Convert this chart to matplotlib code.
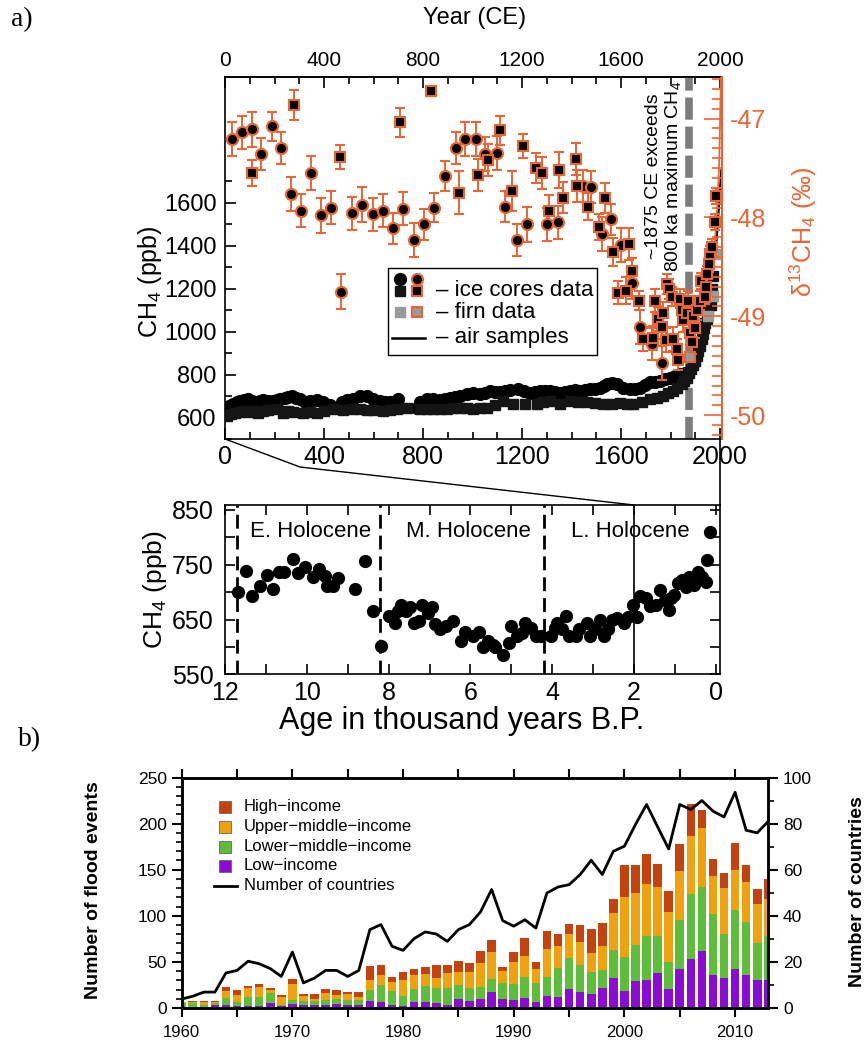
import matplotlib
matplotlib.use('Agg')
import matplotlib.pyplot as plt
from matplotlib.lines import Line2D
from matplotlib.patches import Rectangle
from matplotlib.ticker import MultipleLocator, FixedLocator

plt.rcParams['font.family'] = ['Liberation Sans', 'DejaVu Sans']
plt.rcParams['mathtext.fontset'] = 'custom'
plt.rcParams['mathtext.rm'] = 'Liberation Sans'
plt.rcParams['mathtext.it'] = 'Liberation Sans:italic'
plt.rcParams['mathtext.bf'] = 'Liberation Sans:bold'
plt.rcParams['axes.unicode_minus'] = False

ORANGE = '#EB6434'

# ---------------- panel a (top): CH4 and d13CH4, 0-2000 CE ----------------
ice_circ_year = [0, 17, 34, 48, 61, 78, 94, 110, 128, 142, 155, 175, 195, 209, 222, 242, 256, 269, 286, 303,
                 323, 345, 370, 397, 424, 444, 471, 491, 518, 545, 572, 599, 626, 647, 667, 700, 774, 788, 815,
                 842, 869, 889, 909, 929, 949, 976, 1003, 1030, 1050, 1071, 1091, 1111, 1131, 1151, 1185, 1210,
                 1232, 1252, 1273, 1293, 1313, 1333, 1353, 1374, 1394, 1414, 1434, 1455, 1475, 1495, 1515, 1530,
                 1542, 1562, 1583, 1609, 1636, 1656, 1677, 1697, 1717, 1737, 1757, 1778, 1798, 1818, 1838, 1858]
ice_circ_ch4 = [649, 655, 662, 670, 677, 680, 685, 678, 672, 676, 682, 679, 677, 681, 685, 693, 695, 698, 690, 685,
                672, 676, 682, 670, 657, 646, 672, 682, 688, 700, 698, 685, 676, 674, 672, 688, 646, 670, 685,
                688, 682, 688, 693, 697, 700, 708, 716, 708, 716, 724, 720, 719, 724, 728, 731, 722,
                716, 720, 724, 722, 724, 720, 716, 720, 724, 726, 724, 728, 731, 735, 739, 748,
                755, 759, 755, 739, 731, 735, 739, 750, 763, 766, 770, 778, 786, 792, 801, 809]

ice_sq_year = [7, 24, 40, 57, 74, 91, 108, 135, 155, 175, 209, 236, 256, 276, 317, 345, 370, 400, 438, 475, 512,
               545, 572, 599, 640, 667, 694, 734, 788, 815, 842, 869, 896, 922, 949, 976, 1003, 1030, 1057, 1090,
               1124, 1165, 1212, 1259, 1286, 1313, 1353, 1394, 1428, 1461, 1495, 1528, 1562, 1596, 1623, 1650,
               1684, 1717, 1744, 1771, 1791, 1811, 1828, 1845, 1855, 1865, 1873, 1881, 1890, 1899, 1905, 1912,
               1919, 1926, 1931, 1936, 1941, 1946, 1953, 1962, 1967, 1973]
ice_sq_ch4 = [607, 615, 623, 628, 631, 628, 631, 623, 630, 635, 639, 623, 630, 626, 620, 628, 623, 632, 639, 636, 639,
              640, 637, 635, 631, 636, 639, 643, 639, 641, 639, 640, 641, 643, 646, 642, 639, 643, 646, 660,
              677, 662, 665, 662, 670, 677, 662, 677, 672, 670, 666, 662, 664, 666, 664, 662,
              672, 685, 692, 700, 712, 724, 738, 755, 770, 786, 805, 824, 843, 863, 885, 909,
              935, 964, 990, 1018, 1038, 1057, 1103, 1126, 1196, 1257]

firn_year = [1953, 1970, 1986]
firn_ch4 = [1072, 1165, 1359]

air_year = [1983, 1988, 1993, 1998, 2003, 2006]
air_ch4 = [1390, 1470, 1550, 1630, 1700, 1750]

d13_circ_year = [28, 67, 110, 147, 189, 225, 265, 306, 347, 387, 430, 470, 512, 555, 599, 637, 677, 718, 765, 803,
                 846, 890, 932, 968, 1013, 1050, 1098, 1133, 1178, 1219, 1302, 1347, 1445, 1477, 1523, 1558, 1600,
                 1643, 1677, 1724, 1764]
d13_circ_val = [-47.21, -47.14, -47.11, -47.36, -47.08, -47.30, -47.76, -47.93, -47.55, -47.98, -47.90, -48.75,
                -47.96, -47.87, -47.97, -47.93, -48.11, -47.91, -48.23, -48.07, -47.90, -47.58, -47.30, -47.21,
                -47.21, -47.36, -47.35, -47.89, -48.23, -48.07, -48.07, -48.05, -47.68, -47.69, -48.17, -48.02,
                -48.28, -48.66, -49.11, -49.28, -49.47]
d13_circ_err = [0.17, 0.17, 0.18, 0.16, 0.15, 0.16, 0.17, 0.17, 0.17, 0.18, 0.17, 0.18, 0.17, 0.18, 0.17, 0.17,
                0.16, 0.17, 0.17, 0.16, 0.15, 0.15, 0.16, 0.17, 0.17, 0.17, 0.17, 0.16, 0.16, 0.18, 0.17, 0.17,
                0.16, 0.16, 0.17, 0.16, 0.17, 0.16, 0.17, 0.16, 0.17]

d13_sq_year = [108, 279, 466, 706, 831, 947, 1024, 1064, 1111, 1161, 1205, 1256, 1279, 1308, 1351, 1367, 1418, 1421,
               1465, 1512, 1535, 1569, 1587, 1620, 1634, 1646, 1673, 1690, 1728, 1737, 1751, 1764, 1771, 1782, 1784,
               1795, 1805, 1809, 1825, 1831, 1838, 1845, 1852, 1865, 1872, 1878, 1885, 1889, 1900, 1909, 1919,
               1925, 1939, 1943, 1948, 1955, 1960, 1966, 1980, 1984]
d13_sq_val = [-47.55, -46.86, -47.39, -47.04, -46.72, -47.75, -47.57, -47.42, -47.12, -47.73, -47.28, -47.50, -47.55,
              -47.93, -47.52, -47.80, -47.41, -47.68, -47.89, -48.10, -47.80, -48.35, -48.76, -48.74, -48.27, -48.54,
              -48.84, -49.23, -49.22, -48.84, -49.03, -49.11, -48.97, -49.24, -48.67, -48.72, -48.80, -49.23, -49.33,
              -49.44, -48.82, -48.94, -49.04, -48.97, -48.84, -49.17, -49.26, -49.00, -49.12, -48.94, -48.84,
              -48.64, -48.80, -48.70, -48.57, -48.47, -48.37, -48.30, -48.05, -47.78]
d13_sq_err = [0.13, 0.15, 0.12, 0.15, 0.05, 0.22, 0.16, 0.16, 0.15, 0.20, 0.12, 0.15, 0.16, 0.16, 0.18, 0.16, 0.16,
              0.16, 0.14, 0.13, 0.15, 0.14, 0.12, 0.14, 0.16, 0.13, 0.10, 0.12, 0.12, 0.12, 0.12, 0.12, 0.12, 0.12,
              0.10, 0.10, 0.10, 0.12, 0.10, 0.10, 0.10, 0.10, 0.12, 0.10, 0.10, 0.12, 0.12, 0.10, 0.10, 0.10,
              0.10, 0.08, 0.08, 0.08, 0.08, 0.08, 0.08, 0.08, 0.08, 0.08]

firn_d13_year = [1880]
firn_d13_val = [-49.41]

air_d13_year = [1965, 1980, 1990, 1997, 2004]
air_d13_val = [-48.45, -48.23, -47.85, -47.42, -46.55]

exceed_year = 1875

# ---------------- panel a (bottom): Holocene CH4 ----------------
holo_age = [11.68, 11.49, 11.33, 11.15, 10.97, 10.83, 10.67, 10.55, 10.33, 10.22, 10.04, 9.84, 9.70, 9.55, 9.51,
            9.37, 9.25, 8.83, 8.57, 8.38, 8.19, 7.98, 7.84, 7.76, 7.69, 7.58, 7.48, 7.39, 7.27, 7.18, 7.05, 6.93,
            6.87, 6.75, 6.59, 6.42, 6.22, 6.13, 5.94, 5.78, 5.70, 5.58, 5.45, 5.40, 5.20, 5.07, 5.01, 4.87, 4.75,
            4.67, 4.51, 4.40, 4.28, 4.04, 3.94, 3.88, 3.76, 3.66, 3.58, 3.43, 3.35, 3.15, 3.09, 2.95, 2.83, 2.73,
            2.65, 2.55, 2.42, 2.25, 2.14, 2.03, 1.92, 1.86, 1.70, 1.62, 1.47, 1.37, 1.25, 1.15, 1.11, 1.03, 0.92,
            0.83, 0.73, 0.66, 0.54, 0.44, 0.35, 0.24, 0.22, 0.15]
holo_ch4 = [701, 738, 692, 712, 732, 706, 736, 736, 760, 735, 746, 727, 743, 729, 712,
            712, 726, 706, 757, 666, 602, 657, 643, 666, 677, 666, 672, 643, 648, 677, 661, 673,
            641, 632, 638, 647, 611, 628, 620, 628, 600, 611, 604, 600, 586, 608, 638, 620, 626,
            643, 635, 620, 620, 620, 635, 643, 633, 656, 620, 620, 632, 643, 620, 632, 649, 620,
            632, 649, 652, 643, 655, 676, 654, 692, 690, 675, 676, 704, 686, 667, 689, 695, 716,
            722, 710, 727, 713, 737, 727, 719, 759, 810]
holo_bounds = [11.7, 8.2, 4.2]
holo_names = ['E. Holocene', 'M. Holocene', 'L. Holocene']
holo_name_pos = [9.9, 6.06, 2.1]

# ---------------- panel b: flood events ----------------
years_b = list(range(1960, 2014))
low_inc = [1, 1, 1, 3, 3.6, 2.5, 2.5, 1.8, 5.4, 1.8, 4.3, 2.9, 2.9, 2.9, 4.7, 2.9, 3.6, 8, 6.1, 2.9,
           1.8, 6.1, 6.1, 5.4, 3.6, 9.8, 8, 9.8, 17, 9.8, 9, 11.2, 6.5, 12.7, 11.9, 21, 17.4, 15.6, 22, 32.5,
           18.4, 28.9, 30, 38, 20.6, 42, 53.5, 61.5, 35.4, 32.5, 42, 35.4, 30, 30.7]
lowmid_inc = [4, 4, 2, 2, 7.2, 3.6, 9.4, 9.8, 10.8, 1.8, 4.7, 4.3, 4.3, 5.4, 5.1, 6.1, 5.4, 11.9, 19.2, 15.2,
              11.6, 14.5, 17.4, 16.3, 18.1, 14.8, 13.7, 12.7, 14.8, 17.4, 17.2, 22.4, 20.6, 20.6, 31.8, 33.6, 28.9,
              23.1, 19.5, 30.7, 36.9, 39.1, 47.7, 39.8, 29.3, 53.9, 70.5, 69.8, 66.9, 47.4, 64, 57.9, 40.5, 47.4]
upmid_inc = [1, 2, 3, 2, 7.2, 8.3, 9.8, 11.2, 3.6, 8, 17, 6.1, 2.9, 8, 4.7, 6.1, 2.9, 10.1, 10.8, 10.1,
             17.4, 15.6, 13.7, 11.2, 16.3, 14.5, 17.4, 26.4, 28.9, 12.7, 24.1, 22.4, 14.8, 31.1, 23.5, 26, 25.3,
             21.3, 25.7, 40.1, 65.1, 56.8, 56.4, 53.5, 54.2, 52.4, 62.6, 64, 40.9, 50.6, 43.4, 43.8, 42, 40.5]
high_inc = [1, 1, 2, 1, 4.3, 4.7, 1.8, 3.3, 1.8, 2.2, 5.4, 1.8, 5, 4.7, 4.7, 2.2, 5.4, 15.2, 10.8, 5.4,
            8.3, 6.5, 6.9, 14.1, 8.3, 11.9, 9.8, 12.7, 13.4, 4.3, 10.1, 20.3, 8, 19.5, 13.4, 10.8, 18.8,
            25.3, 25, 15.2, 35.1, 30.7, 33.3, 25.3, 22.8, 30, 35.1, 19.2, 18.1, 16.3, 29.7, 17.7, 16.3, 21]
n_countries = [3.9, 5.1, 6.9, 6.9, 15.2, 16.3, 20.3, 19.2, 17.1, 13.7, 24.3, 10.9, 13, 16.3, 16.3, 13.7, 16.3,
               34, 36.2, 26.8, 25, 30.1, 33, 32.1, 28.9, 34, 36.2, 41.7, 51.4, 37.9, 35.5, 38.3, 34.7, 49.9,
               52.5, 53.5, 57.9, 64.1, 57.9, 68, 70.2, 79.6, 88.3, 78.6, 69, 88.3, 86.1, 90, 85.4, 82.9, 93.6,
               77.1, 76, 81]
income_labels = ['High\u2212income', 'Upper\u2212middle\u2212income', 'Lower\u2212middle\u2212income', 'Low\u2212income']
income_colors = ['#C4420E', '#EFA20E', '#5EBE3C', '#8A0BD2']

W, H = 866, 1045
fig = plt.figure(figsize=(W / 100, H / 100), dpi=100)


def fx(x):
    return x / W


def fy(y):
    return 1 - y / H


# ================= top axes =================
ax1 = fig.add_axes([fx(225), fy(439), 497 / W, 362 / H])
ax1.set_xlim(0, 2008)
ax1.set_ylim(500, 2185)
ax1.axvline(exceed_year, color='#7d7d7d', lw=5.5, dashes=(2.9, 0.9), zorder=1)
ax1.plot(ice_circ_year, ice_circ_ch4, 'o', color='black', ms=8.5, mec='black', zorder=3)
ax1.plot(ice_sq_year, ice_sq_ch4, 's', color='#151515', ms=6.5, zorder=3)
ax1.plot(firn_year, firn_ch4, 's', color='#9a9a9a', ms=7, zorder=4)
ax1.plot(air_year, air_ch4, '-', color='black', lw=1.8, zorder=4)

ax1.yaxis.set_major_locator(FixedLocator([600, 800, 1000, 1200, 1400, 1600]))
ax1.yaxis.set_minor_locator(FixedLocator(list(range(500, 1800, 100))))
ax1.xaxis.set_major_locator(MultipleLocator(400))
ax1.xaxis.set_minor_locator(MultipleLocator(100))
ax1.tick_params(axis='both', which='major', direction='in', length=8, width=1.2, labelsize=17, pad=6)
ax1.tick_params(axis='both', which='minor', direction='in', length=5, width=1.2)
ax1.tick_params(axis='x', top=True, which='both')
ax1.tick_params(axis='x', which='major', labelsize=18, pad=4)
for s in ax1.spines.values():
    s.set_linewidth(1.2)

axt = ax1.secondary_xaxis('top')
axt.xaxis.set_major_locator(MultipleLocator(400))
axt.tick_params(axis='x', direction='in', length=0, labelsize=15, pad=5)
axt.spines['top'].set_linewidth(1.2)

ax1r = ax1.twinx()
ax1r.set_ylim(-50.24, -46.58)
ax1r.plot(air_d13_year, air_d13_val, '-', color=ORANGE, lw=1.3, zorder=2)
ax1r.errorbar(d13_circ_year, d13_circ_val, yerr=d13_circ_err, fmt='o', color=ORANGE, mfc='black', mec=ORANGE,
              ms=8, mew=1.5, ecolor=ORANGE, elinewidth=1.4, capsize=3.5, capthick=1.4, zorder=3)
ax1r.errorbar(d13_sq_year, d13_sq_val, yerr=d13_sq_err, fmt='s', color=ORANGE, mfc='black', mec=ORANGE,
              ms=6.5, mew=1.5, ecolor=ORANGE, elinewidth=1.4, capsize=3.5, capthick=1.4, zorder=3)
ax1r.plot(firn_d13_year, firn_d13_val, 's', mfc='#9a9a9a', mec=ORANGE, ms=7, mew=1.5, zorder=4)
ax1r.yaxis.set_major_locator(MultipleLocator(1))
ax1r.yaxis.set_minor_locator(MultipleLocator(0.1))
ax1r.tick_params(axis='y', which='major', direction='in', length=13, width=1.2, colors=ORANGE, labelsize=18, pad=6)
ax1r.tick_params(axis='y', which='minor', direction='in', length=7, width=1.2, colors=ORANGE)
for k in ['left', 'top', 'bottom']:
    ax1r.spines[k].set_visible(False)
ax1r.spines['right'].set_color(ORANGE)
ax1r.spines['right'].set_linewidth(1.4)

ax1r.text(0.883, 0.727, '~1875 CE exceeds\n800 ka maximum CH$_4$', transform=ax1r.transAxes, rotation=90,
          ha='center', va='center', fontsize=14, linespacing=1.1, zorder=6)

# legend (manual)
def tp(x, y):
    return ((x - 225) / 497, (439 - y) / 362)

bx0, by0 = tp(388, 355)
bx1, by1 = tp(597, 268)
ax1r.add_patch(Rectangle((bx0, by0), bx1 - bx0, by1 - by0, transform=ax1r.transAxes, fc='white', ec='black',
                         lw=1.0, zorder=7))
c1, c2 = tp(400, 0)[0], tp(417, 0)[0]
r1, r2, r3, r4 = tp(0, 279)[1], tp(0, 291)[1], tp(0, 312)[1], tp(0, 338)[1]
ax1r.plot([c1], [r1], 'o', color='black', ms=8.5, transform=ax1r.transAxes, zorder=8, clip_on=False)
ax1r.plot([c2], [r1], 'o', mfc='black', mec=ORANGE, ms=8, mew=1.5, transform=ax1r.transAxes, zorder=8, clip_on=False)
ax1r.plot([c1], [r2], 's', color='#151515', ms=7, transform=ax1r.transAxes, zorder=8)
ax1r.plot([c2], [r2], 's', mfc='black', mec=ORANGE, ms=7, mew=1.5, transform=ax1r.transAxes, zorder=8)
ax1r.plot([c1], [r3], 's', color='#9a9a9a', ms=7, transform=ax1r.transAxes, zorder=8)
ax1r.plot([c2], [r3], 's', mfc='#9a9a9a', mec=ORANGE, ms=7, mew=1.5, transform=ax1r.transAxes, zorder=8)
lx0, lx1 = tp(392, 0)[0], tp(425, 0)[0]
ax1r.plot([lx0, lx1], [r4, r4], '-', color='black', lw=1.8, transform=ax1r.transAxes, zorder=8)
tx = tp(436, 0)[0]
for yy, t in [(tp(0, 290)[1], '\u2013 ice cores data'), (r3, '\u2013 firn data'), (r4, '\u2013 air samples')]:
    ax1r.text(tx, yy, t, transform=ax1r.transAxes, fontsize=16, va='center', ha='left', zorder=9)

fig.text(fx(475), fy(18), 'Year (CE)', fontsize=17, ha='center', va='center')
fig.text(fx(150), fy(282), 'CH$_4$ (ppb)', fontsize=18, rotation=90, ha='center', va='center')
fig.text(fx(803), fy(232), '\u03b4$^{13}$CH$_4$ (\u2030)', fontsize=18, rotation=90, ha='center', va='center',
         color=ORANGE)
fig.text(fx(22), fy(20), 'a)', fontsize=20, family='Liberation Serif', ha='center', va='center')

# ================= bottom axes of panel a =================
ax2 = fig.add_axes([fx(225), fy(674.3), 495 / W, 169.3 / H])
ax2.set_xlim(12, -0.1)
ax2.set_ylim(550, 859)
ax2.plot(holo_age, holo_ch4, 'o', color='black', ms=8.5, zorder=3)
for b in holo_bounds:
    ax2.axvline(b, color='black', lw=2.0, dashes=(5, 2.5), zorder=2)
ax2.axvline(2, color='black', lw=1.2, zorder=2)
for nm, px in zip(holo_names, holo_name_pos):
    ax2.text(px, 810, nm, fontsize=16, ha='center', va='center', zorder=4)
ax2.xaxis.set_major_locator(MultipleLocator(2))
ax2.xaxis.set_minor_locator(MultipleLocator(1))
ax2.yaxis.set_major_locator(FixedLocator([550, 650, 750, 850]))
ax2.yaxis.set_minor_locator(FixedLocator([600, 700, 800]))
ax2.tick_params(axis='both', which='both', direction='in', top=True, right=True, length=7, width=1.2,
                labelsize=18, pad=8)
ax2.tick_params(axis='x', which='major', pad=5)
for s in ax2.spines.values():
    s.set_linewidth(1.2)
fig.text(fx(155), fy(590), 'CH$_4$ (ppb)', fontsize=19, rotation=90, ha='center', va='center')
fig.text(fx(462), fy(721), 'Age in thousand years B.P.', fontsize=22, ha='center', va='center')

# zoom connector lines
fig.canvas.draw()
inv = fig.transFigure.inverted()
p0 = inv.transform(ax1.transData.transform((0, 500)))
p2 = inv.transform(ax2.transData.transform((2, 859)))
p3 = inv.transform(ax1.transData.transform((2008, 500)))
p4 = inv.transform(ax2.transData.transform((-0.1, 859)))
fig.add_artist(Line2D([p0[0], fx(300), p2[0]], [p0[1], fy(467), p2[1]], transform=fig.transFigure,
                      color='black', lw=1.0))
fig.add_artist(Line2D([p4[0], p4[0]], [p3[1], p4[1]], transform=fig.transFigure, color='black', lw=1.2))

# ================= panel b =================
axb = fig.add_axes([fx(181.7), fy(1008), 586.6 / W, 230.5 / H])
axb.set_xlim(1960, 2013)
axb.set_ylim(0, 250)
bottom = [0] * len(years_b)
for vals, col in zip([low_inc, lowmid_inc, upmid_inc, high_inc], income_colors[::-1]):
    axb.bar(years_b, vals, bottom=bottom, width=0.78, color=col, edgecolor='none', zorder=2)
    bottom = [b + v for b, v in zip(bottom, vals)]
axb.xaxis.set_major_locator(MultipleLocator(10))
axb.xaxis.set_minor_locator(MultipleLocator(5))
axb.yaxis.set_major_locator(MultipleLocator(50))
axb.yaxis.set_minor_locator(MultipleLocator(10))
axb.tick_params(axis='x', which='both', direction='out', top=True, length=6.5, width=1.5, labelsize=12, pad=6)
axb.tick_params(axis='y', which='major', direction='out', length=7.5, width=1.5, labelsize=12.5, pad=3)
axb.tick_params(axis='y', which='minor', direction='out', length=4, width=1.2)
for s in axb.spines.values():
    s.set_linewidth(1.8)

axbr = axb.twinx()
axbr.set_ylim(0, 100)
axbr.plot(years_b, n_countries, '-', color='black', lw=2.0, zorder=3)
axbr.yaxis.set_major_locator(MultipleLocator(20))
axbr.yaxis.set_minor_locator(MultipleLocator(10))
axbr.tick_params(axis='y', which='major', direction='out', length=7.5, width=1.5, labelsize=12.5, pad=3)
axbr.tick_params(axis='y', which='minor', direction='out', length=4.5, width=1.2)
for s in axbr.spines.values():
    s.set_linewidth(1.8)

# legend b (manual)
def bp(x, y):
    return ((x - 181.7) / 586.6, (1008 - y) / 230.5)

rows = [806.7, 826.7, 846.7, 865.5]
for lab, col, ry in zip(income_labels, income_colors, rows):
    xx, yy = bp(225, ry)
    axb.plot([xx], [yy], 's', mfc=col, mec='#666666', mew=0.6, ms=8.5, transform=axb.transAxes, zorder=5)
    axb.text(bp(244, 0)[0], yy, lab, transform=axb.transAxes, fontsize=12, va='center', ha='left')
lx0, ly = bp(214, 886)
lx1 = bp(237, 0)[0]
axb.plot([lx0, lx1], [ly, ly], '-', color='black', lw=2.0, transform=axb.transAxes, zorder=5)
axb.text(bp(244, 0)[0], ly, 'Number of countries', transform=axb.transAxes, fontsize=12, va='center', ha='left')

fig.text(fx(93), fy(890), 'Number of flood events', fontsize=14, fontweight='bold', rotation=90,
         ha='center', va='center')
fig.text(fx(857), fy(892), 'Number of countries', fontsize=14, fontweight='bold', rotation=90,
         ha='center', va='center')
fig.text(fx(30), fy(740), 'b)', fontsize=20, family='Liberation Serif', ha='center', va='center')

fig.savefig('out.png', dpi=100)
